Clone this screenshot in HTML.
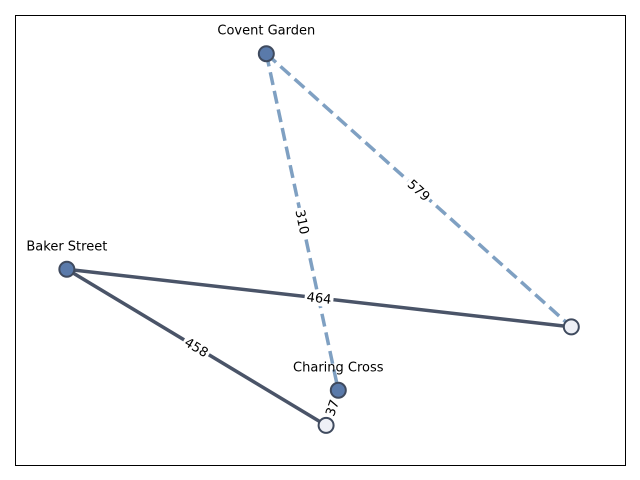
<!DOCTYPE html>
<html><head><meta charset="utf-8"><style>
html,body{margin:0;padding:0;background:#fff;}
svg{display:block;font-family:"DejaVu Sans","Liberation Sans",sans-serif;}
</style></head><body>
<svg id="chart" width="640" height="480" viewBox="0 0 640 480" xmlns="http://www.w3.org/2000/svg">
<rect x="15.5" y="15.5" width="610" height="450" fill="#fff" stroke="#000" stroke-width="1"/>
<g id="edges"></g><g id="elabels"></g><g id="nodes"></g><g id="nlabels"></g>
</svg>
<script>
const nodeNames=["Covent Garden","Baker Street","Charing Cross","",""];
const nodeX=[0.412,0.085,0.53,0.912,0.51];
const nodeY=[0.914,0.435,0.166,0.307,0.088];
const nodeFilled=[true,true,true,false,false];
const edgeFrom=[0,0,1,1,2];
const edgeTo=[3,2,3,4,4];
const edgeWeights=[579,310,464,458,37];
const edgeStyle=["dashed","dashed","solid","solid","none"];
const NS="http://www.w3.org/2000/svg";
const sx=v=>15+v*610, sy=v=>465-v*450;
const eg=document.getElementById('edges'),lg=document.getElementById('elabels'),ng=document.getElementById('nodes'),tg=document.getElementById('nlabels');
edgeFrom.forEach((a,i)=>{
 const b=edgeTo[i];const x1=sx(nodeX[a]),y1=sy(nodeY[a]),x2=sx(nodeX[b]),y2=sy(nodeY[b]);
 if(edgeStyle[i]!=="none"){
  const l=document.createElementNS(NS,'line');
  
  
  l.setAttribute('x1',x1);l.setAttribute('y1',y1);l.setAttribute('x2',x2);l.setAttribute('y2',y2);
  l.setAttribute('stroke',edgeStyle[i]==="dashed"?"#7fa0c2":"#4a5468");
  l.setAttribute('stroke-width',3.5);
  if(edgeStyle[i]==="dashed")l.setAttribute('stroke-dasharray','13,6');
  eg.appendChild(l);
 }
 let ang=Math.atan2(y2-y1,x2-x1)*180/Math.PI; if(ang>90)ang-=180; if(ang<-90)ang+=180;
 const mx=(x1+x2)/2,my=(y1+y2)/2;
 const g=document.createElementNS(NS,'g');
 
 
 g.setAttribute('transform',`translate(${mx},${my}) rotate(${ang})`);
 const t=String(edgeWeights[i]);const w=t.length*8.3+4;
 const r=document.createElementNS(NS,'rect');
 r.setAttribute('x',-w/2);r.setAttribute('y',-8);r.setAttribute('width',w);r.setAttribute('height',16);r.setAttribute('fill','#fff');
 g.appendChild(r);
 const tx=document.createElementNS(NS,'text');
 tx.setAttribute('text-anchor','middle');tx.setAttribute('y',4.5);tx.setAttribute('font-size',13);tx.textContent=t;
 g.appendChild(tx);lg.appendChild(g);
});
nodeNames.forEach((n,i)=>{
 const c=document.createElementNS(NS,'circle');
 
 
 c.setAttribute('cx',sx(nodeX[i]));c.setAttribute('cy',sy(nodeY[i]));c.setAttribute('r',7.5);
 c.setAttribute('fill',nodeFilled[i]?'#5a7aaa':'#eef0f6');c.setAttribute('stroke','#3f4a5e');c.setAttribute('stroke-width',2);
 ng.appendChild(c);
 if(n){
  const t=document.createElementNS(NS,'text');
  
  
  t.setAttribute('x',sx(nodeX[i]));t.setAttribute('y',sy(nodeY[i])-19);t.setAttribute('text-anchor','middle');t.setAttribute('font-size',13);
  t.textContent=n;tg.appendChild(t);
 }
});
</script>
</body></html>
